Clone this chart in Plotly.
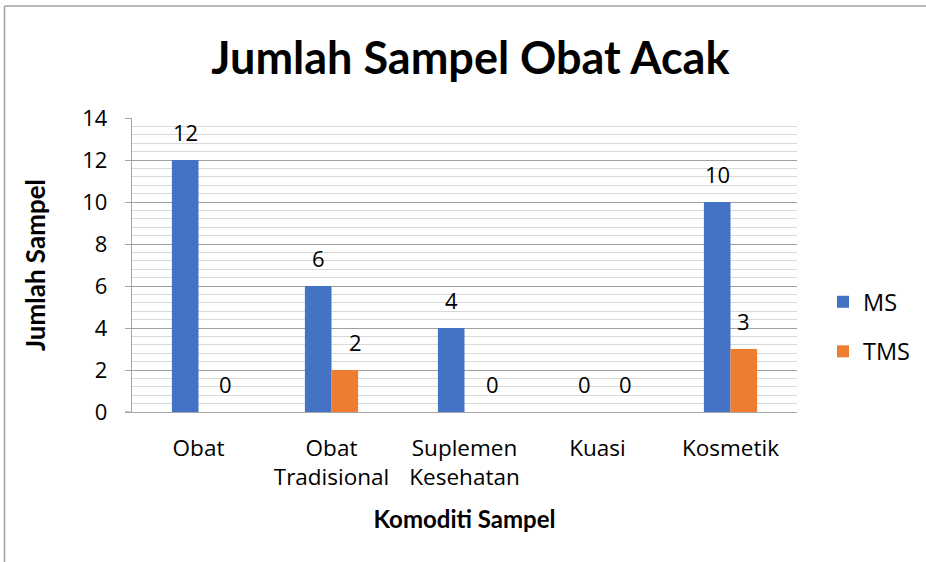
import plotly.graph_objects as go

categories = ["Obat", "Obat<br>Tradisional", "Suplemen<br>Kesehatan", "Kuasi", "Kosmetik"]
ms_values = [12, 6, 4, 0, 10]
tms_values = [0, 2, 0, 0, 3]
y_ticks = [0, 2, 4, 6, 8, 10, 12, 14]

title_text = "Jumlah Sampel Obat Acak"
x_title = "Komoditi Sampel"
y_title = "Jumlah Sampel"

FONT = "Open Sans"
BOLD_FONT = "Lato"
MS_COLOR = "#4472C4"
TMS_COLOR = "#ED7D31"

# label nudges (pixels) - styling only
ms_dx = [0, 0, 0, 0, 0]
tms_dx = [14, 11, 15, 15, 0]

W, H = 926, 562
L, R, T, B = 132, 129, 118, 150
pw, ph = W - L - R, H - T - B

fig = go.Figure()
fig.add_trace(go.Bar(x=list(range(len(categories))), y=ms_values, name="MS",
                     marker=dict(color=MS_COLOR, line=dict(width=0)), legendgroup="a"))
fig.add_trace(go.Bar(x=list(range(len(categories))), y=tms_values, name="TMS",
                     marker=dict(color=TMS_COLOR, line=dict(width=0)), legendgroup="b"))

annotations = []
for i, v in enumerate(ms_values):
    annotations.append(dict(x=i - 0.1, y=v, text=str(v), showarrow=False, xref="x", yref="y",
                            yanchor="bottom", yshift=11, xshift=ms_dx[i],
                            font=dict(family=FONT, size=22, color="#000")))
for i, v in enumerate(tms_values):
    annotations.append(dict(x=i + 0.1, y=v, text=str(v), showarrow=False, xref="x", yref="y",
                            yanchor="bottom", yshift=11, xshift=tms_dx[i],
                            font=dict(family=FONT, size=22, color="#000")))

def px_x(p):
    return (p - L) / pw

def px_y(p):
    return (H - B - p) / ph

shapes = [
    dict(type="line", xref="paper", yref="paper", x0=px_x(4.5), x1=px_x(W + 5), y0=px_y(6), y1=px_y(6),
         line=dict(color="#a0a0a0", width=1.5)),
    dict(type="line", xref="paper", yref="paper", x0=px_x(4.5), x1=px_x(4.5), y0=px_y(6), y1=px_y(H + 5),
         line=dict(color="#a0a0a0", width=1.5)),
    dict(type="line", xref="paper", yref="paper", x0=px_x(125), x1=0, y0=0, y1=0,
         line=dict(color="#a6a6a6", width=1.3)),
]

fig.update_layout(
    width=W, height=H,
    margin=dict(l=L, r=R, t=T, b=B, autoexpand=False),
    paper_bgcolor="white", plot_bgcolor="white",
    barmode="group", bargap=0.6, bargroupgap=0,
    font=dict(family=FONT, color="#000"),
    title=dict(text="<b>" + title_text + "</b>", x=0.508, xanchor="center", y=1 - 58 / H, yanchor="middle",
               font=dict(family=BOLD_FONT, size=45, color="#000")),
    xaxis=dict(tickmode="array", tickvals=list(range(len(categories))), ticktext=categories,
               range=[-0.5, len(categories) - 0.5],
               showgrid=False, showline=True, linecolor="#a6a6a6", linewidth=1.3,
               ticks="", tickfont=dict(family=FONT, size=22.5, color="#000"),
               ticklabelstandoff=16,
               title=dict(text="<b>" + x_title + "</b>", font=dict(family=BOLD_FONT, size=24, color="#000"),
                          standoff=19)),
    yaxis=dict(range=[0, 14], tickmode="array", tickvals=y_ticks,
               showgrid=True, gridcolor="#a0a0a0", gridwidth=1,
               minor=dict(dtick=0.4, showgrid=True, gridcolor="#d9d9d9", gridwidth=1, ticks=""),
               showline=True, linecolor="#a6a6a6", linewidth=1.3,
               ticks="outside", ticklen=6, tickcolor="#a6a6a6",
               tickfont=dict(family=FONT, size=22, color="#000"),
               ticklabelstandoff=13, zeroline=False,
               title=dict(text="<b>" + y_title + "</b>", font=dict(family=BOLD_FONT, size=26, color="#000"),
                          standoff=29)),
    legend=dict(x=px_x(823), y=px_y(280), xanchor="left", yanchor="top",
                font=dict(family=FONT, size=23.5, color="#000"), tracegroupgap=16,
                itemwidth=30, bgcolor="rgba(0,0,0,0)"),
    annotations=annotations,
    shapes=shapes,
)

fig.write_html("out.html", config={"displayModeBar": False},
               post_script="document.body.style.margin='0';")
